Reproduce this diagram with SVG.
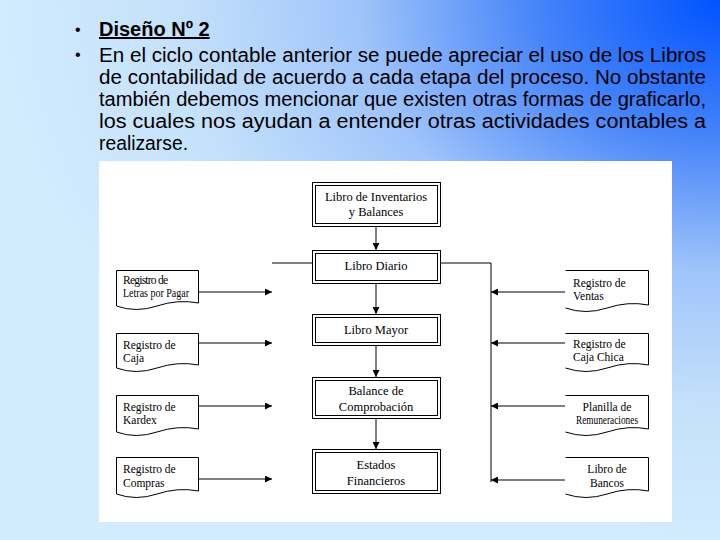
<svg xmlns="http://www.w3.org/2000/svg" width="720" height="540" viewBox="0 0 720 540">
<defs>
<radialGradient id="bg" cx="1" cy="0" r="1" gradientUnits="objectBoundingBox">
<stop offset="0" stop-color="#0053ff"/>
<stop offset="0.25" stop-color="#4583f9"/>
<stop offset="0.5" stop-color="#9fc4fa"/>
<stop offset="0.75" stop-color="#c4e1fb"/>
<stop offset="1" stop-color="#d2ebfd"/>
</radialGradient>
<marker id="ah" viewBox="0 0 8 8" refX="8" refY="4" markerWidth="7" markerHeight="7" markerUnits="userSpaceOnUse" orient="auto">
<path d="M0,0 L8,4 L0,8 Z" fill="#000"/>
</marker>
<style>
.hd{font-family:"Liberation Sans",Arial,sans-serif;font-size:20px;fill:#000}
.bl{font-family:"Liberation Sans",Arial,sans-serif;font-size:16px;fill:#000}
.bx{fill:#fff;stroke:#000;stroke-width:1}
.t{font-family:"Liberation Serif","Times New Roman",serif;font-size:12.5px;font-weight:normal;fill:#000;text-anchor:middle}
.d{font-family:"Liberation Serif","Times New Roman",serif;font-size:11.5px;fill:#000}
.doc{fill:#fff;stroke:#000;stroke-width:1}
.c{fill:none;stroke:#000;stroke-width:1}
</style>
</defs>
<rect x="0" y="0" width="720" height="540" fill="url(#bg)"/>
<g id="header">
<text class="bl" x="75" y="35">•</text>
<text class="hd" x="99" y="36" font-weight="bold" text-decoration="underline">Diseño Nº 2</text>
<text class="bl" x="75" y="60">•</text>
<text class="hd" x="99" y="62" textLength="607" lengthAdjust="spacingAndGlyphs">En el ciclo contable anterior se puede apreciar el uso de los Libros</text>
<text class="hd" x="99" y="84" textLength="607" lengthAdjust="spacingAndGlyphs">de contabilidad de acuerdo a cada etapa del proceso. No obstante</text>
<text class="hd" x="99" y="106" textLength="607" lengthAdjust="spacingAndGlyphs">también debemos mencionar que existen otras formas de graficarlo,</text>
<text class="hd" x="99" y="128" textLength="607" lengthAdjust="spacingAndGlyphs">los cuales nos ayudan a entender otras actividades contables a</text>
<text class="hd" x="99" y="150" textLength="89" lengthAdjust="spacingAndGlyphs">realizarse.</text>
</g>
<rect x="99" y="161" width="573" height="361" fill="#fff"/>
<g id="connectors">
<line class="c" x1="376" y1="226" x2="376" y2="250" marker-end="url(#ah)"/>
<line class="c" x1="376" y1="283" x2="376" y2="314" marker-end="url(#ah)"/>
<line class="c" x1="376" y1="345" x2="376" y2="377" marker-end="url(#ah)"/>
<line class="c" x1="376" y1="418" x2="376" y2="449" marker-end="url(#ah)"/>
<line class="c" x1="272" y1="263" x2="312" y2="263"/>
<polyline class="c" points="440,263 491,263 491,482"/>
<line class="c" x1="198" y1="292" x2="272" y2="292" marker-end="url(#ah)"/>
<line class="c" x1="198" y1="343" x2="272" y2="343" marker-end="url(#ah)"/>
<line class="c" x1="198" y1="406" x2="272" y2="406" marker-end="url(#ah)"/>
<line class="c" x1="198" y1="479" x2="272" y2="479" marker-end="url(#ah)"/>
<line class="c" x1="565" y1="292" x2="491" y2="292" marker-end="url(#ah)"/>
<line class="c" x1="565" y1="343" x2="491" y2="343" marker-end="url(#ah)"/>
<line class="c" x1="565" y1="406" x2="491" y2="406" marker-end="url(#ah)"/>
<line class="c" x1="565" y1="480" x2="491" y2="480" marker-end="url(#ah)"/>
</g>
<g id="inventarios">
<rect class="bx" x="312.5" y="182.5" width="128" height="44"/>
<rect class="bx" x="315.5" y="185.5" width="122" height="38"/>
<text class="t" x="376" y="201" font-size="12">Libro de Inventarios</text>
<text class="t" x="376" y="216" font-size="12">y Balances</text>
</g>
<g id="diario">
<rect class="bx" x="312.5" y="250.5" width="128" height="33"/>
<rect class="bx" x="315.5" y="253.5" width="122" height="27"/>
<text class="t" x="376" y="270">Libro Diario</text>
</g>
<g id="mayor">
<rect class="bx" x="312.5" y="314.5" width="128" height="31"/>
<rect class="bx" x="315.5" y="317.5" width="122" height="25"/>
<text class="t" x="376" y="334" font-size="13.5">Libro Mayor</text>
</g>
<g id="balance">
<rect class="bx" x="312.5" y="377.5" width="128" height="41"/>
<rect class="bx" x="315.5" y="380.5" width="122" height="35"/>
<text class="t" x="376" y="395">Balance de</text>
<text class="t" x="376" y="411">Comprobación</text>
</g>
<g id="estados">
<rect class="bx" x="312.5" y="449.5" width="128" height="44"/>
<rect class="bx" x="315.5" y="452.5" width="122" height="38"/>
<text class="t" x="376" y="469">Estados</text>
<text class="t" x="376" y="485">Financieros</text>
</g>
<g id="letras">
<path class="doc" d="M116.5,270.5 H198.5 V303 Q178,299 157,306 T116.5,306 Z"/>
<text class="d" x="123" y="284" font-size="9.5" textLength="45">Registro de</text>
<text class="d" x="123" y="297" font-size="9.5" textLength="66" lengthAdjust="spacingAndGlyphs">Letras por Pagar</text>
</g>
<g id="caja">
<path class="doc" d="M116.5,333.5 H198.5 V365 Q178,361 157,368 T116.5,368 Z"/>
<text class="d" x="123" y="349">Registro de</text>
<text class="d" x="123" y="362">Caja</text>
</g>
<g id="kardex">
<path class="doc" d="M116.5,395.5 H198.5 V429 Q178,425 157,432 T116.5,432 Z"/>
<text class="d" x="123" y="411">Registro de</text>
<text class="d" x="123" y="424">Kardex</text>
</g>
<g id="compras">
<path class="doc" d="M116.5,457.5 H198.5 V491 Q178,487 157,494 T116.5,494 Z"/>
<text class="d" x="123" y="473">Registro de</text>
<text class="d" x="123" y="487">Compras</text>
</g>
<g id="ventas">
<path class="doc" d="M565.5,270.5 H648.5 V305 Q628,301 607,308 T565.5,308"/>
<text class="d" x="573" y="287">Registro de</text>
<text class="d" x="573" y="300">Ventas</text>
</g>
<g id="cajachica">
<path class="doc" d="M565.5,333.5 H648.5 V365 Q628,361 607,368 T565.5,368"/>
<text class="d" x="573" y="348">Registro de</text>
<text class="d" x="573" y="361">Caja Chica</text>
</g>
<g id="planilla">
<path class="doc" d="M565.5,395.5 H648.5 V429 Q628,425 607,432 T565.5,432"/>
<text class="d" x="607" y="411" text-anchor="middle">Planilla de</text>
<text class="d" x="576" y="424" font-size="9" textLength="62" lengthAdjust="spacingAndGlyphs">Remuneraciones</text>
</g>
<g id="bancos">
<path class="doc" d="M565.5,457.5 H648.5 V491 Q628,487 607,494 T565.5,494"/>
<text class="d" x="607" y="473" text-anchor="middle">Libro de</text>
<text class="d" x="607" y="487" text-anchor="middle">Bancos</text>
</g>
</svg>
